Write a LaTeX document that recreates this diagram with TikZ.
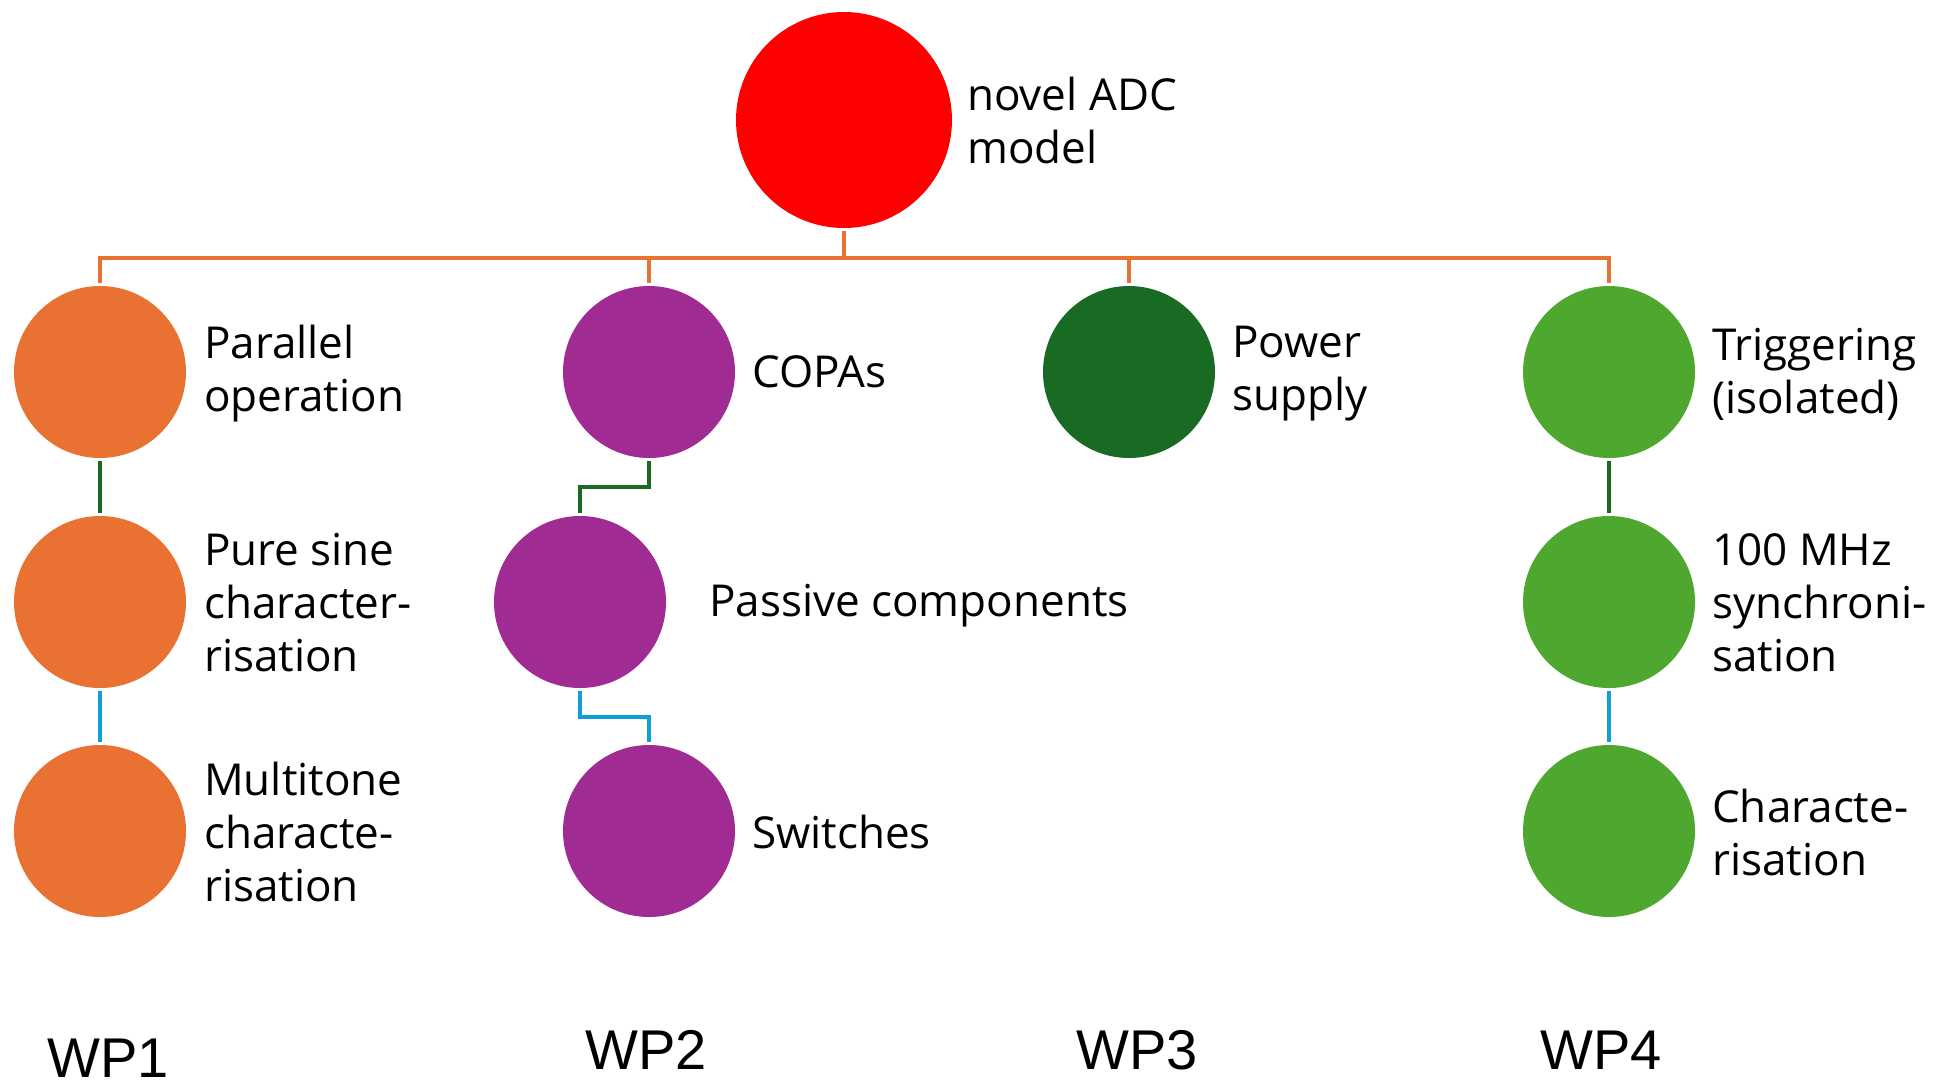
\documentclass[tikz,border=0pt]{standalone}
\usepackage{fontspec}
\setmainfont{Open Sans}
\newfontfamily\wpfont{Liberation Sans}
\definecolor{cRed}{HTML}{FF0000}
\definecolor{cOrange}{HTML}{E97132}
\definecolor{cPurple}{HTML}{A02B93}
\definecolor{cDGreen}{HTML}{196B24}
\definecolor{cGreen}{HTML}{4EA72E}
\definecolor{cBlue}{HTML}{0F9ED5}
\tikzset{
  dot/.style={circle,minimum size=172pt,inner sep=0pt,draw=none},
  lbl/.style={anchor=west,align=left,inner sep=0pt,font=\fontsize{44}{53}\selectfont},
  wp/.style={anchor=center,inner sep=0pt,font=\wpfont\fontsize{56}{60}\selectfont},
  conn/.style={line width=3.5pt,line join=miter,shorten <=3pt,shorten >=3pt},
}
\begin{document}
\begin{tikzpicture}[x=1pt,y=-1pt]
\useasboundingbox[fill=white] (0,0) rectangle (1934,1084);
% top
\node[dot,fill=cRed,minimum size=216pt] (top) at (844,120) {};
\node[lbl] (toplbl) at (967,120) {novel ADC\\model};
% WP1
\node[dot,fill=cOrange] (a1) at (100,372) {};
\node[dot,fill=cOrange] (a2) at (100,602) {};
\node[dot,fill=cOrange] (a3) at (100,831) {};
\node[lbl] (a1l) at (204,374) {Parallel\\operation};
\node[lbl] (a2l) at (204,603) {Pure sine\\character-\\risation};
\node[lbl] (a3l) at (204,832) {Multitone\\characte-\\risation};
% WP2
\node[dot,fill=cPurple] (b1) at (649,372) {};
\node[dot,fill=cPurple] (b2) at (580,602) {};
\node[dot,fill=cPurple] (b3) at (649,831) {};
\node[lbl] (b1l) at (752,372) {COPAs};
\node[lbl] (b2l) at (709,606) {Passive components};
\node[lbl] (b3l) at (752,832) {Switches};
% WP3
\node[dot,fill=cDGreen] (c1) at (1129,372) {};
\node[lbl] (c1l) at (1232,374) {Power\\supply};
% WP4
\node[dot,fill=cGreen] (d1) at (1609,372) {};
\node[dot,fill=cGreen] (d2) at (1609,602) {};
\node[dot,fill=cGreen] (d3) at (1609,831) {};
\node[lbl] (d1l) at (1712,374) {Triggering\\(isolated)};
\node[lbl] (d2l) at (1712,603) {100 MHz\\synchroni-\\sation};
\node[lbl] (d3l) at (1712,832) {Characte-\\risation};
% WP labels
\node[wp] (wp1) at (108,1058) {WP1};
\node[wp] (wp2) at (646,1050) {WP2};
\node[wp] (wp3) at (1137,1050) {WP3};
\node[wp] (wp4) at (1601,1050) {WP4};
% connectors
\coordinate (hub) at (844,258);
\draw[conn,cOrange,shorten >=0pt] (top.south) -- (hub);
\draw[conn,cOrange,shorten <=0pt] (hub) -| (a1.north);
\draw[conn,cOrange,shorten <=0pt] (hub) -| (b1.north);
\draw[conn,cOrange,shorten <=0pt] (hub) -| (c1.north);
\draw[conn,cOrange,shorten <=0pt] (hub) -| (d1.north);
\draw[conn,cDGreen] (a1.south) -- (a2.north);
\draw[conn,cBlue] (a2.south) -- (a3.north);
\draw[conn,cDGreen] (b1.south) -- ++(0,29) -| (b2.north);
\draw[conn,cBlue] (b2.south) -- ++(0,29) -| (b3.north);
\draw[conn,cDGreen] (d1.south) -- (d2.north);
\draw[conn,cBlue] (d2.south) -- (d3.north);
\end{tikzpicture}
\end{document}
